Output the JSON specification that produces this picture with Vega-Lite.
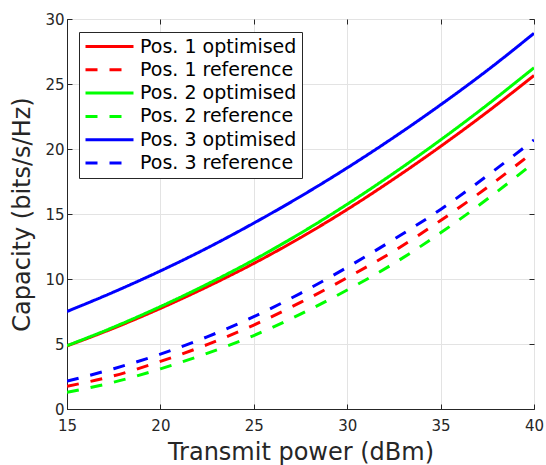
{
  "$schema": "https://vega.github.io/schema/vega-lite/v6.json",
  "autosize": "none",
  "width": 467,
  "height": 390,
  "padding": {"left": 67, "top": 19, "right": 12, "bottom": 56},
  "background": "white",
  "config": {
    "font": "DejaVu Sans",
    "view": {"stroke": "#262626", "strokeWidth": 1},
    "axis": {
      "domainColor": "#262626",
      "tickColor": "#262626",
      "labelColor": "#262626",
      "titleColor": "#262626",
      "gridColor": "#e3e3e3",
      "labelFont": "DejaVu Sans",
      "titleFont": "DejaVu Sans",
      "labelFontSize": 15,
      "titleFontSize": 24,
      "titleFontWeight": "normal",
      "labelFlush": false,
      "tickSize": -5
    },
    "legend": {
      "orient": "none",
      "legendX": 12,
      "legendY": 13,
      "strokeColor": "#262626",
      "fillColor": "white",
      "padding": 5,
      "rowPadding": 3.3,
      "symbolType": "M-3,0H3",
      "symbolSize": 256,
      "symbolOffset": 16,
      "symbolStrokeWidth": 3,
      "labelFontSize": 19,
      "labelColor": "#000000",
      "labelOffset": 21,
      "labelFont": "DejaVu Sans"
    }
  },
  "data": {
    "values": [
      {"p": 15, "c": 4.85, "s": "Pos. 1 optimised"},
      {"p": 17.5, "c": 6.22, "s": "Pos. 1 optimised"},
      {"p": 20, "c": 7.74, "s": "Pos. 1 optimised"},
      {"p": 22.5, "c": 9.4, "s": "Pos. 1 optimised"},
      {"p": 25, "c": 11.2, "s": "Pos. 1 optimised"},
      {"p": 27.5, "c": 13.18, "s": "Pos. 1 optimised"},
      {"p": 30, "c": 15.35, "s": "Pos. 1 optimised"},
      {"p": 32.5, "c": 17.7, "s": "Pos. 1 optimised"},
      {"p": 35, "c": 20.2, "s": "Pos. 1 optimised"},
      {"p": 37.5, "c": 22.85, "s": "Pos. 1 optimised"},
      {"p": 40, "c": 25.65, "s": "Pos. 1 optimised"},
      {"p": 15, "c": 1.75, "s": "Pos. 1 reference"},
      {"p": 17.5, "c": 2.55, "s": "Pos. 1 reference"},
      {"p": 20, "c": 3.66, "s": "Pos. 1 reference"},
      {"p": 22.5, "c": 4.95, "s": "Pos. 1 reference"},
      {"p": 25, "c": 6.46, "s": "Pos. 1 reference"},
      {"p": 27.5, "c": 8.2, "s": "Pos. 1 reference"},
      {"p": 30, "c": 10.1, "s": "Pos. 1 reference"},
      {"p": 32.5, "c": 12.15, "s": "Pos. 1 reference"},
      {"p": 35, "c": 14.5, "s": "Pos. 1 reference"},
      {"p": 37.5, "c": 17.05, "s": "Pos. 1 reference"},
      {"p": 40, "c": 19.8, "s": "Pos. 1 reference"},
      {"p": 15, "c": 4.87, "s": "Pos. 2 optimised"},
      {"p": 17.5, "c": 6.3, "s": "Pos. 2 optimised"},
      {"p": 20, "c": 7.88, "s": "Pos. 2 optimised"},
      {"p": 22.5, "c": 9.6, "s": "Pos. 2 optimised"},
      {"p": 25, "c": 11.47, "s": "Pos. 2 optimised"},
      {"p": 27.5, "c": 13.52, "s": "Pos. 2 optimised"},
      {"p": 30, "c": 15.75, "s": "Pos. 2 optimised"},
      {"p": 32.5, "c": 18.15, "s": "Pos. 2 optimised"},
      {"p": 35, "c": 20.7, "s": "Pos. 2 optimised"},
      {"p": 37.5, "c": 23.4, "s": "Pos. 2 optimised"},
      {"p": 40, "c": 26.25, "s": "Pos. 2 optimised"},
      {"p": 15, "c": 1.29, "s": "Pos. 2 reference"},
      {"p": 17.5, "c": 2.06, "s": "Pos. 2 reference"},
      {"p": 20, "c": 3.09, "s": "Pos. 2 reference"},
      {"p": 22.5, "c": 4.28, "s": "Pos. 2 reference"},
      {"p": 25, "c": 5.65, "s": "Pos. 2 reference"},
      {"p": 27.5, "c": 7.3, "s": "Pos. 2 reference"},
      {"p": 30, "c": 9.15, "s": "Pos. 2 reference"},
      {"p": 32.5, "c": 11.2, "s": "Pos. 2 reference"},
      {"p": 35, "c": 13.55, "s": "Pos. 2 reference"},
      {"p": 37.5, "c": 16.15, "s": "Pos. 2 reference"},
      {"p": 40, "c": 18.95, "s": "Pos. 2 reference"},
      {"p": 15, "c": 7.5, "s": "Pos. 3 optimised"},
      {"p": 17.5, "c": 9.0, "s": "Pos. 3 optimised"},
      {"p": 20, "c": 10.62, "s": "Pos. 3 optimised"},
      {"p": 22.5, "c": 12.38, "s": "Pos. 3 optimised"},
      {"p": 25, "c": 14.3, "s": "Pos. 3 optimised"},
      {"p": 27.5, "c": 16.35, "s": "Pos. 3 optimised"},
      {"p": 30, "c": 18.55, "s": "Pos. 3 optimised"},
      {"p": 32.5, "c": 20.9, "s": "Pos. 3 optimised"},
      {"p": 35, "c": 23.4, "s": "Pos. 3 optimised"},
      {"p": 37.5, "c": 26.05, "s": "Pos. 3 optimised"},
      {"p": 40, "c": 28.9, "s": "Pos. 3 optimised"},
      {"p": 15, "c": 2.14, "s": "Pos. 3 reference"},
      {"p": 17.5, "c": 3.1, "s": "Pos. 3 reference"},
      {"p": 20, "c": 4.22, "s": "Pos. 3 reference"},
      {"p": 22.5, "c": 5.55, "s": "Pos. 3 reference"},
      {"p": 25, "c": 7.1, "s": "Pos. 3 reference"},
      {"p": 27.5, "c": 8.9, "s": "Pos. 3 reference"},
      {"p": 30, "c": 10.9, "s": "Pos. 3 reference"},
      {"p": 32.5, "c": 13.05, "s": "Pos. 3 reference"},
      {"p": 35, "c": 15.35, "s": "Pos. 3 reference"},
      {"p": 37.5, "c": 17.95, "s": "Pos. 3 reference"},
      {"p": 40, "c": 20.7, "s": "Pos. 3 reference"}
    ]
  },
  "layer": [
    {
      "mark": {"type": "line", "strokeWidth": 3, "interpolate": "monotone", "clip": true},
      "encoding": {
        "x": {
          "field": "p", "type": "quantitative",
          "scale": {"domain": [15, 40], "nice": false, "zero": false},
          "axis": {"title": "Transmit power (dBm)", "values": [15, 20, 25, 30, 35, 40], "labelPadding": 14, "titlePadding": 7}
        },
        "y": {
          "field": "c", "type": "quantitative",
          "scale": {"domain": [0, 30], "nice": false},
          "axis": {"title": "Capacity (bits/s/Hz)", "values": [0, 5, 10, 15, 20, 25, 30], "labelPadding": 8, "titlePadding": 10}
        },
        "color": {
          "field": "s", "type": "nominal",
          "scale": {
            "domain": ["Pos. 1 optimised", "Pos. 1 reference", "Pos. 2 optimised", "Pos. 2 reference", "Pos. 3 optimised", "Pos. 3 reference"],
            "range": ["#ff0000", "#ff0000", "#00ff00", "#00ff00", "#0000ff", "#0000ff"]
          },
          "legend": {"title": null}
        },
        "strokeDash": {
          "field": "s", "type": "nominal",
          "scale": {
            "domain": ["Pos. 1 optimised", "Pos. 1 reference", "Pos. 2 optimised", "Pos. 2 reference", "Pos. 3 optimised", "Pos. 3 reference"],
            "range": [[1, 0], [12, 12], [1, 0], [12, 12], [1, 0], [12, 12]]
          },
          "legend": {"title": null}
        }
      }
    },
    {
      "mark": {"type": "point", "opacity": 0},
      "encoding": {
        "x": {
          "field": "p", "type": "quantitative",
          "scale": {"domain": [15, 40], "nice": false, "zero": false},
          "axis": {"orient": "top", "title": null, "labels": false, "grid": false, "domain": false, "values": [15, 20, 25, 30, 35, 40]}
        },
        "y": {
          "field": "c", "type": "quantitative",
          "scale": {"domain": [0, 30], "nice": false},
          "axis": {"orient": "right", "title": null, "labels": false, "grid": false, "domain": false, "values": [0, 5, 10, 15, 20, 25, 30]}
        }
      }
    }
  ],
  "resolve": {"axis": {"x": "independent", "y": "independent"}}
}
